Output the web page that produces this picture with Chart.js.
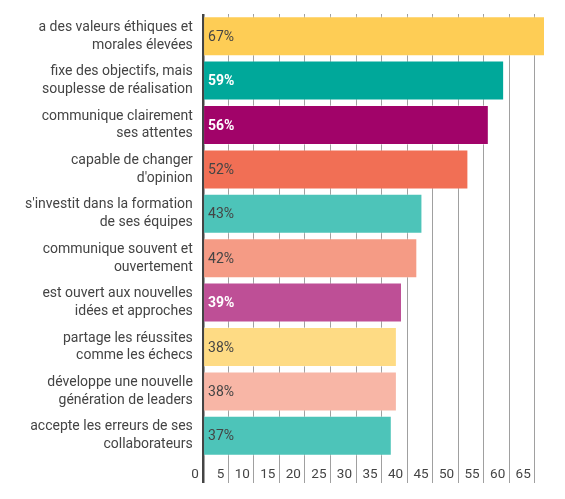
<!DOCTYPE html>
<html>
<head>
<meta charset="utf-8">
<script src="https://cdn.jsdelivr.net/npm/chart.js@4"></script>
<style>
  body { margin: 0; background: #fff; }
  #wrap { width: 565px; height: 499px; }
</style>
</head>
<body>
<div id="wrap"><canvas id="myChart"></canvas></div>
<script>
var categories = [
    ["a des valeurs éthiques et", "morales élevées"],
    ["fixe des objectifs, mais", "souplesse de réalisation"],
    ["communique clairement", "ses attentes"],
    ["capable de changer", "d'opinion"],
    ["s'investit dans la formation", "de ses équipes"],
    ["communique souvent et", "ouvertement"],
    ["est ouvert aux nouvelles", "idées et approches"],
    ["partage les réussites", "comme les échecs"],
    ["développe une nouvelle", "génération de leaders"],
    ["accepte les erreurs de ses", "collaborateurs"]
];
var values = [67, 59, 56, 52, 43, 42, 39, 38, 38, 37];
var tickValues = [0, 5, 10, 15, 20, 25, 30, 35, 40, 45, 50, 55, 60, 65];
var barColors = [
    "#fecd55",
    "#00a89a",
    "#a10369",
    "#f16f55",
    "#4dc4b9",
    "#f59b85",
    "#be4f96",
    "#fedb84",
    "#f8b6a6",
    "#4dc4b9"
];
var valueColors = ["#444", "#fff", "#fff", "#444", "#444", "#444", "#fff", "#444", "#444", "#444"];
var valueBold = [false, true, true, false, false, false, true, false, false, false];

// draw "67%" etc. at the start of each bar
var valueLabels = {
    id: "valueLabels",
    afterDatasetsDraw: function (chart) {
        var ctx = chart.ctx;
        var meta = chart.getDatasetMeta(0);
        ctx.save();
        ctx.textBaseline = "middle";
        ctx.textAlign = "left";
        meta.data.forEach(function (bar, i) {
            ctx.font = (valueBold[i] ? "bold " : "") + "14px Roboto";
            ctx.fillStyle = valueColors[i];
            ctx.fillText(values[i] + "%", bar.base + 4, bar.y + 1);
        });
        ctx.restore();
    }
};

new Chart("myChart", {
    type: "bar",
    data: {
        labels: categories,
        datasets: [{
            data: values,
            backgroundColor: barColors,
            borderColor: "rgba(255,255,255,0.35)",
            borderWidth: 1,
            borderSkipped: "left",
            categoryPercentage: 0.9,
            barPercentage: 1
        }]
    },
    options: {
        indexAxis: "y",
        responsive: true,
        maintainAspectRatio: false,
        animation: false,
        layout: { padding: { top: 14, right: 20, bottom: 0, left: 15 } },
        plugins: {
            legend: { display: false },
            tooltip: { enabled: false }
        },
        scales: {
            x: {
                min: 0,
                max: 67,
                afterBuildTicks: function (scale) {
                    scale.ticks = tickValues.map(function (v) { return { value: v }; });
                },
                afterFit: function (scale) {
                    scale.height = 41;
                },
                border: { display: false },
                grid: {
                    color: function (c) { return c.index === 0 ? "#444" : "#a0a0a0"; },
                    lineWidth: function (c) { return c.index === 0 ? 2.5 : 1; },
                    tickLength: 25
                },
                ticks: {
                    align: "end",
                    labelOffset: -4,
                    padding: -16,
                    color: "#444",
                    font: { family: "Roboto", size: 13.5 }
                }
            },
            y: {
                afterFit: function (scale) {
                    scale.paddingTop = 0;
                    scale.paddingBottom = 0;
                },
                border: { display: false },
                grid: { display: false, drawTicks: false },
                ticks: {
                    padding: 10,
                    color: "#444",
                    font: { family: "Roboto", size: 14, lineHeight: 1.27 }
                }
            }
        }
    },
    plugins: [valueLabels]
});
</script>
</body>
</html>
